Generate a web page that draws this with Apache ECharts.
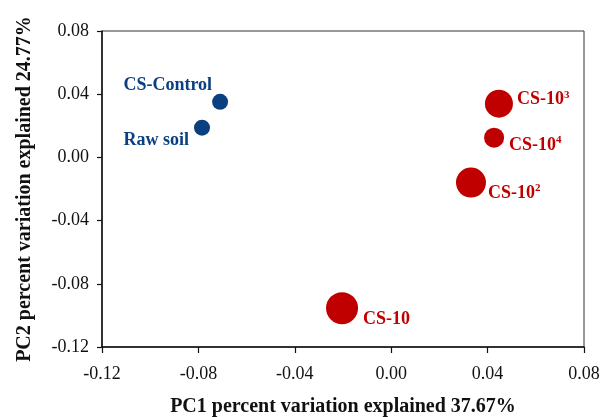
<!DOCTYPE html>
<html>
<head>
<meta charset="utf-8">
<script src="https://cdn.jsdelivr.net/npm/echarts@6/dist/echarts.min.js"></script>
<style>html,body{margin:0;padding:0;background:#fff;overflow:hidden}#c{width:600px;height:417px}</style>
</head>
<body>
<div id="c"></div>
<script>
// ---- data ----
var sampleNames = ['CS-Control', 'Raw soil', 'CS-10', 'CS-10^2', 'CS-10^3', 'CS-10^4'];
var pc1 = [-0.071, -0.0785, -0.0204, 0.0331, 0.0447, 0.0427];
var pc2 = [0.0352, 0.0188, -0.0954, -0.0159, 0.034, 0.0125];
var groups = ['control', 'control', 'treated', 'treated', 'treated', 'treated'];
var xTicks = [-0.12, -0.08, -0.04, 0.00, 0.04, 0.08];
var yTicks = [-0.12, -0.08, -0.04, 0.00, 0.04, 0.08];
var xTitle = 'PC1 percent variation explained 37.67%';
var yTitle = 'PC2 percent variation explained 24.77%';

// ---- styles ----
var colors = { control: '#0a3f80', treated: '#c00000' };
var symbolSizes = [16, 16, 32, 30, 28, 20];
var labelCfg = [
  { position: 'left', distance: 0, offset: [0, -16] },
  { position: 'left', distance: 5, offset: [0, 13] },
  { position: 'right', distance: 5, offset: [0, 11] },
  { position: 'right', distance: 2, offset: [0, 11] },
  { position: 'right', distance: 4, offset: [0, -4] },
  { position: 'right', distance: 5, offset: [0, 8] }
];
var FONT = '"Liberation Serif", "Times New Roman", serif';

function fmtLabel(name) {
  var m = name.match(/^(.*)\^(\d+)$/);
  if (m) return '{b|' + m[1] + '}{sup|' + m[2] + '}';
  return '{b|' + name + '}';
}

var data = sampleNames.map(function (n, i) {
  var c = colors[groups[i]];
  return {
    name: n,
    value: [pc1[i], pc2[i]],
    symbolSize: symbolSizes[i],
    itemStyle: { color: c, opacity: 1 },
    label: {
      show: true,
      position: labelCfg[i].position,
      distance: labelCfg[i].distance,
      offset: labelCfg[i].offset,
      formatter: fmtLabel(n),
      rich: {
        b: { fontFamily: FONT, fontWeight: 'bold', fontSize: 18, color: c },
        sup: { fontFamily: FONT, fontWeight: 'bold', fontSize: 11, color: c, verticalAlign: 'top', padding: [0, 0, 10, 0] }
      }
    }
  };
});

var fmt = function (v) { return v.toFixed(2); };

var chart = echarts.init(document.getElementById('c'), null, { renderer: 'canvas' });
chart.setOption({
  animation: false,
  backgroundColor: '#fff',
  grid: { left: 102, right: 16, top: 31, bottom: 70, containLabel: false, outerBoundsMode: 'none', show: true, borderColor: '#333', borderWidth: 1 },
  xAxis: {
    type: 'value', min: xTicks[0], max: xTicks[xTicks.length - 1], interval: 0.04,
    name: xTitle, nameLocation: 'middle', nameGap: 50,
    nameTextStyle: { fontFamily: FONT, fontWeight: 'bold', fontSize: 20, color: '#111' },
    axisLine: { onZero: false, lineStyle: { color: '#111', width: 1.5 } },
    axisTick: { show: true, inside: false, length: 6, lineStyle: { color: '#111', width: 1.2 } },
    axisLabel: { fontFamily: FONT, fontSize: 18, color: '#111', margin: 18, formatter: fmt },
    splitLine: { show: false }
  },
  yAxis: {
    type: 'value', min: yTicks[0], max: yTicks[yTicks.length - 1], interval: 0.04,
    name: yTitle, nameLocation: 'middle', nameGap: 67,
    nameTextStyle: { fontFamily: FONT, fontWeight: 'bold', fontSize: 20, color: '#111' },
    axisLine: { onZero: false, lineStyle: { color: '#111', width: 1.5 } },
    axisTick: { show: true, inside: false, length: 5, lineStyle: { color: '#111', width: 1.2 } },
    axisLabel: { fontFamily: FONT, fontSize: 18, color: '#111', margin: 13, formatter: fmt },
    splitLine: { show: false }
  },
  series: [{
    type: 'scatter',
    symbol: 'circle',
    data: data
  }]
});
</script>
</body>
</html>
